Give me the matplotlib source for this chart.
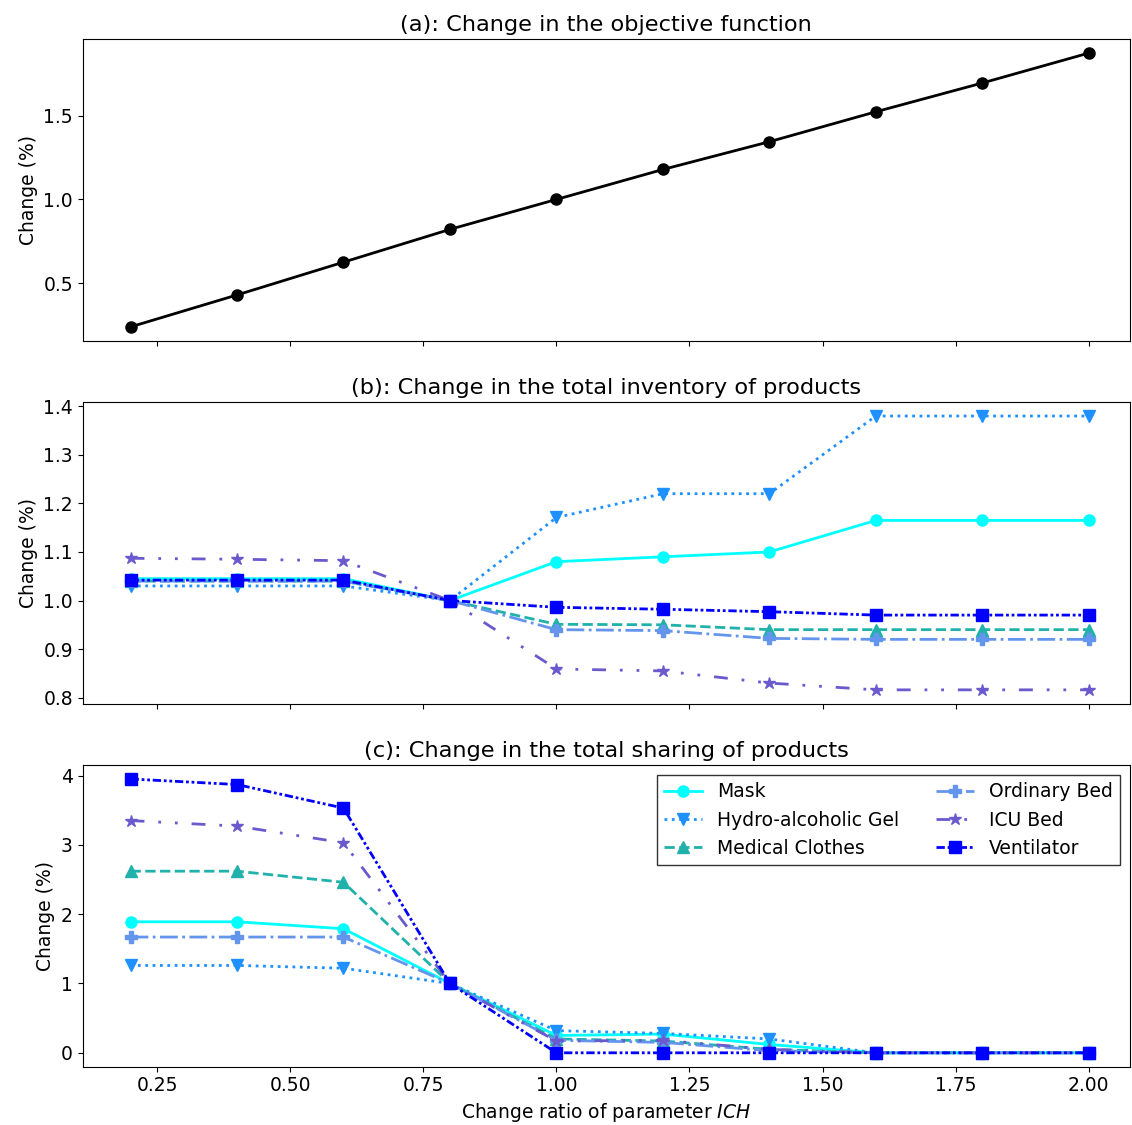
#!/usr/bin/env python
# sensitivity analysis of parameter ICH

import matplotlib
matplotlib.use('Agg')
from matplotlib import pyplot as plt
from matplotlib.ticker import MultipleLocator

ratios = [0.2, 0.4, 0.6, 0.8, 1.0, 1.2, 1.4, 1.6, 1.8, 2.0]

objective = [0.238, 0.429, 0.625, 0.821, 1.0, 1.179, 1.345, 1.524, 1.696, 1.875]

products = ['Mask', 'Hydro-alcoholic Gel', 'Medical Clothes',
            'Ordinary Bed', 'ICU Bed', 'Ventilator']

inv_mask = [1.045, 1.045, 1.045, 1.0, 1.08, 1.09, 1.10, 1.165, 1.165, 1.165]
inv_gel = [1.03, 1.03, 1.03, 1.0, 1.171, 1.22, 1.22, 1.38, 1.38, 1.38]
inv_clothes = [1.04, 1.04, 1.04, 1.0, 0.951, 0.95, 0.94, 0.94, 0.94, 0.94]
inv_bed = [1.04, 1.04, 1.04, 1.0, 0.94, 0.938, 0.922, 0.92, 0.92, 0.92]
inv_icu = [1.087, 1.085, 1.082, 1.0, 0.859, 0.855, 0.83, 0.816, 0.816, 0.816]
inv_vent = [1.042, 1.042, 1.042, 1.0, 0.986, 0.982, 0.977, 0.97, 0.97, 0.97]

sh_mask = [1.89, 1.89, 1.79, 1.0, 0.25, 0.27, 0.12, 0.0, 0.0, 0.0]
sh_gel = [1.26, 1.26, 1.22, 1.0, 0.32, 0.28, 0.2, 0.0, 0.0, 0.0]
sh_clothes = [2.62, 2.62, 2.46, 1.0, 0.2, 0.17, 0.05, 0.0, 0.0, 0.0]
sh_bed = [1.67, 1.67, 1.67, 1.0, 0.18, 0.15, 0.03, 0.0, 0.0, 0.0]
sh_icu = [3.35, 3.27, 3.03, 1.0, 0.17, 0.18, 0.05, 0.0, 0.0, 0.0]
sh_vent = [3.95, 3.87, 3.53, 1.0, 0.0, 0.0, 0.0, 0.0, 0.0, 0.0]

# style for each product: color, marker, linestyle
styles = [
    ('cyan', 'o', '-'),
    ('dodgerblue', 'v', ':'),
    ('lightseagreen', '^', '--'),
    ('cornflowerblue', 'P', '-.'),
    ('slateblue', '*', (0, (5, 5, 1, 5, 1, 5))),
    ('blue', 's', (0, (3, 1, 1, 1, 1, 1))),
]

plt.rcParams['font.size'] = 13.5

fig, axes = plt.subplots(3, 1, figsize=(11.32, 11.25), dpi=100, sharex=True)
fig.subplots_adjust(left=0.073, right=0.998, top=0.965, bottom=0.052, hspace=0.205)

ax = axes[0]
ax.plot(ratios, objective, color='black', marker='o', markersize=8, linewidth=2)
ax.set_title('(a): Change in the objective function')
ax.set_ylabel('Change (%)')
ax.yaxis.set_major_locator(MultipleLocator(0.5))

ax = axes[1]
inventory = [inv_mask, inv_gel, inv_clothes, inv_bed, inv_icu, inv_vent]
for name, vals, (c, m, ls) in zip(products, inventory, styles):
    ax.plot(ratios, vals, color=c, marker=m, linestyle=ls, linewidth=2,
            markersize=9 if m in ('*', 'P') else 8, label=name)
ax.set_title('(b): Change in the total inventory of products')
ax.set_ylabel('Change (%)')
ax.yaxis.set_major_locator(MultipleLocator(0.1))

ax = axes[2]
sharing = [sh_mask, sh_gel, sh_clothes, sh_bed, sh_icu, sh_vent]
for name, vals, (c, m, ls) in zip(products, sharing, styles):
    ax.plot(ratios, vals, color=c, marker=m, linestyle=ls, linewidth=2,
            markersize=9 if m in ('*', 'P') else 8, label=name)
ax.set_title('(c): Change in the total sharing of products')
ax.set_ylabel('Change (%)')
ax.set_xlabel('Change ratio of parameter $ICH$')
ax.yaxis.set_major_locator(MultipleLocator(1))
leg = ax.legend(loc='upper right', ncol=2, fancybox=False, framealpha=1)
leg.get_frame().set_edgecolor('#333333')

ax.set_xlim(0.11, 2.077)

plt.savefig('out.png', dpi=100)
